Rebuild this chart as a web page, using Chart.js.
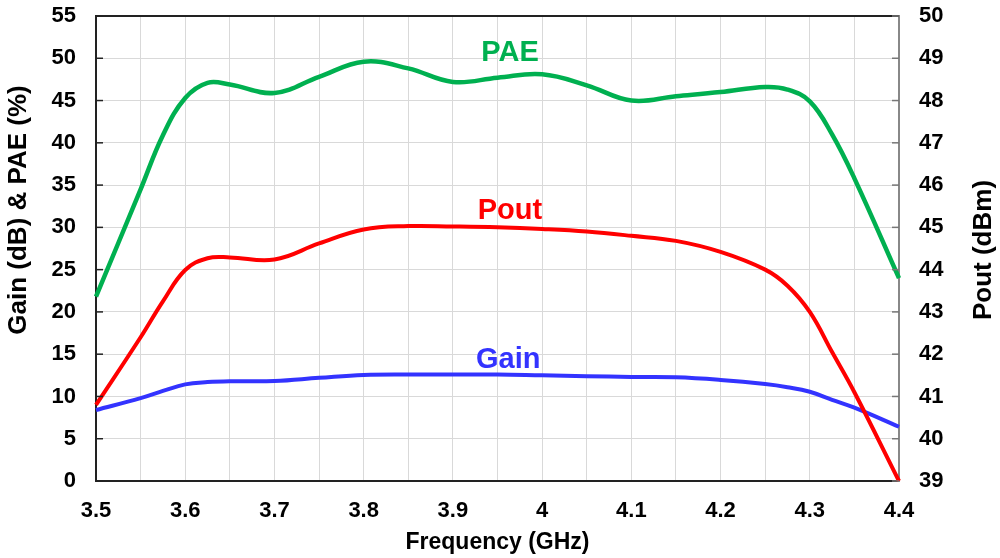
<!DOCTYPE html>
<html>
<head>
<meta charset="utf-8">
<script src="https://cdn.jsdelivr.net/npm/chart.js@4"></script>
<style>
  html,body{margin:0;padding:0;background:#fff;}
  #wrap{width:1000px;height:558px;position:relative;}
</style>
</head>
<body>
<div id="wrap"><canvas id="myCanvas"></canvas></div>
<script>
// frequency points (GHz)
var freq=[3.5,3.55,3.575,3.6,3.625,3.65,3.7,3.75,3.8,3.85,3.9,3.95,4.0,4.05,4.1,4.15,4.2,4.25,4.275,4.3,4.325,4.35,4.4];
// PAE (%) - left axis
var pae=[21.8,34.5,40.9,45.3,47.1,46.9,45.9,47.8,49.6,48.8,47.2,47.7,48.1,46.8,45.0,45.5,46.0,46.6,46.3,44.9,41.0,35.8,24.0];
// Pout (dBm) - right axis
var pout=[40.8,42.4,43.25,43.99,44.27,44.29,44.24,44.62,44.95,45.03,45.02,45.0,44.96,44.9,44.8,44.68,44.42,44.0,43.62,43.0,42.05,41.1,39.0];
// Gain (dB) - left axis
var gain=[8.4,9.8,10.65,11.43,11.7,11.8,11.83,12.2,12.54,12.6,12.6,12.6,12.5,12.4,12.3,12.26,11.95,11.47,11.1,10.56,9.6,8.67,6.42];

// curve labels (x in GHz, y on left axis)
var labelText=['PAE','Pout','Gain'];
var labelX=[3.964,3.964,3.962];
var labelY=[50.6,31.9,14.3];

var green='#00B050', red='#FF0000', blue='#3333FF';
var labelColors=[green,red,blue];
var font='"Liberation Sans", Arial, sans-serif';

function pts(ys){
  return freq.map(function(f,i){ return {x:f,y:ys[i]}; });
}

//draws axis titles, inner tick marks, top frame and curve labels
var extras={
  id:'extras',
  afterDraw:function(chart){
    var ctx=chart.ctx, a=chart.chartArea;
    var y=chart.scales.y, y2=chart.scales.y2, x=chart.scales.x;
    ctx.save();
    ctx.strokeStyle='#222';
    ctx.lineWidth=2;
    ctx.beginPath();
    ctx.moveTo(a.left,a.top);ctx.lineTo(a.right,a.top);
    ctx.stroke();
    ctx.lineWidth=1.5;
    y.ticks.forEach(function(t){
      var p=y.getPixelForValue(t.value);
      ctx.strokeStyle='#222';
      ctx.beginPath();ctx.moveTo(a.left,p);ctx.lineTo(a.left+7,p);ctx.stroke();
    });
    y2.ticks.forEach(function(t){
      var p=y2.getPixelForValue(t.value);
      ctx.strokeStyle='#777';
      ctx.beginPath();ctx.moveTo(a.right-7,p);ctx.lineTo(a.right,p);ctx.stroke();
    });
    ctx.font='bold 29px '+font;
    ctx.textAlign='center';
    ctx.textBaseline='middle';
    for(var i=0;i<labelText.length;i++){
      ctx.fillStyle=labelColors[i];
      ctx.fillText(labelText[i],x.getPixelForValue(labelX[i]),y.getPixelForValue(labelY[i]));
    }
    ctx.fillStyle='#000';
    ctx.font='bold 23px '+font;
    ctx.fillText('Frequency (GHz)',(a.left+a.right)/2,543);
    ctx.save();
    ctx.translate(19,210);ctx.rotate(-Math.PI/2);
    ctx.font='bold 26px '+font;
    ctx.fillText('Gain (dB) & PAE (%)',0,0);
    ctx.restore();
    ctx.save();
    ctx.translate(984,250);ctx.rotate(-Math.PI/2);
    ctx.font='bold 26px '+font;
    ctx.fillText('Pout (dBm)',0,0);
    ctx.restore();
    ctx.restore();
  }
};

var tickFont={family:font,size:22,weight:'bold'};

function fixV(w){
  return function(s){ s.width=w; s.paddingTop=16; s.paddingBottom=0; };
}

new Chart(document.getElementById('myCanvas'),{
  type:'line',
  data:{
    datasets:[
      {label:'PAE',data:pts(pae),yAxisID:'y',borderColor:green,borderWidth:4.5,pointRadius:0,tension:0.4,fill:false,clip:false},
      {label:'Pout',data:pts(pout),yAxisID:'y2',borderColor:red,borderWidth:4,pointRadius:0,tension:0.4,fill:false,clip:false},
      {label:'Gain',data:pts(gain),yAxisID:'y',borderColor:blue,borderWidth:4,pointRadius:0,tension:0.4,fill:false,clip:false}
    ]
  },
  options:{
    responsive:true,
    maintainAspectRatio:false,
    animation:false,
    layout:{padding:{top:16,left:0,right:0,bottom:0}},
    plugins:{legend:{display:false},tooltip:{enabled:false}},
    scales:{
      x:{
        type:'linear',position:'bottom',min:3.5,max:4.4,
        ticks:{
          stepSize:0.05,autoSkip:false,maxRotation:0,color:'#000',font:tickFont,padding:17,
          callback:function(v){
            var k=Math.round(v*100);
            if(k%10!==0) return '';
            return String(Number(v.toFixed(1)));
          }
        },
        grid:{color:'#d9d9d9',lineWidth:1,drawTicks:false},
        border:{color:'#222',width:2},
        afterFit:function(s){s.height=77;s.paddingLeft=0;s.paddingRight=0;}
      },
      y:{
        position:'left',min:0,max:55,
        ticks:{stepSize:5,color:'#000',font:tickFont,padding:20},
        grid:{color:'#d9d9d9',lineWidth:1,drawTicks:false},
        border:{color:'#222',width:2},
        afterFit:fixV(96)
      },
      y2:{
        position:'right',min:39,max:50,
        ticks:{stepSize:1,color:'#000',font:tickFont,padding:20},
        grid:{drawOnChartArea:false,drawTicks:false},
        border:{color:'#888',width:2},
        afterFit:fixV(101)
      }
    }
  },
  plugins:[extras]
});
</script>
</body>
</html>
